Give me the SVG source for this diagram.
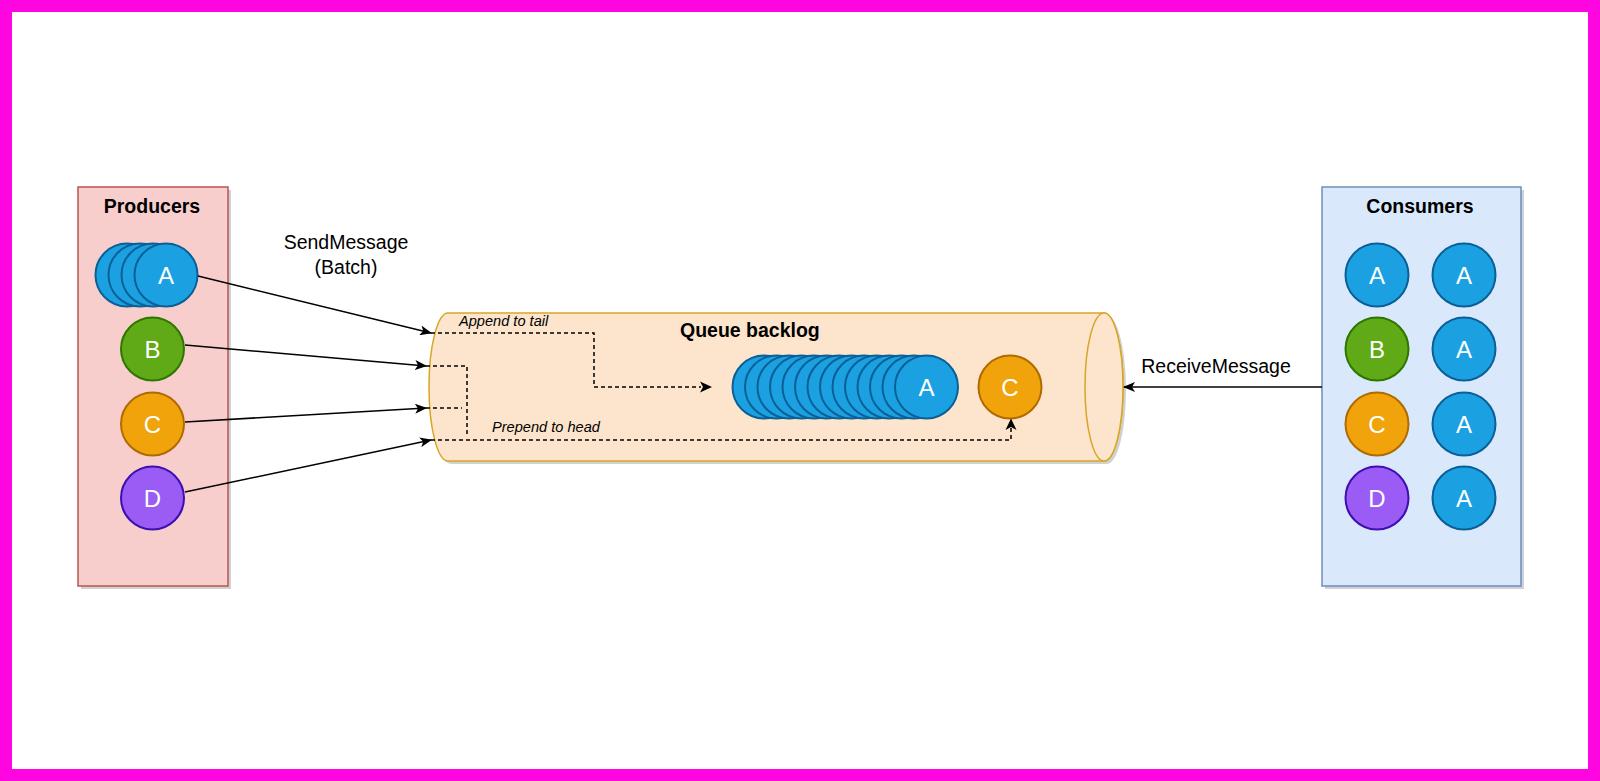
<svg xmlns="http://www.w3.org/2000/svg" width="1600" height="781" viewBox="0 0 1600 781">
<style>
text{font-family:"Liberation Sans",Arial,sans-serif}
.title{font-size:19.5px;font-weight:bold;fill:#000;text-anchor:middle}
.lbl{font-size:19.5px;fill:#000;text-anchor:middle}
.it{font-size:14.6px;font-style:italic;fill:#000}
.ct{font-size:24px;fill:#fff;text-anchor:middle}
.blue{fill:#1ba1e2;stroke:#0a5f96;stroke-width:2}
.green{fill:#60a917;stroke:#2d7600;stroke-width:2}
.orange{fill:#f0a30a;stroke:#b06a00;stroke-width:2}
.purple{fill:#9a5cf5;stroke:#3d0fb0;stroke-width:2}
.sol{fill:none;stroke:#000;stroke-width:1.5;marker-end:url(#arr)}
.dash{fill:none;stroke:#000;stroke-width:1.5;stroke-dasharray:4 3}
.shadow{fill:#000;opacity:0.18}
</style>
<defs>
<marker id="arr" viewBox="0 0 12 10" refX="11" refY="5" markerWidth="12" markerHeight="10" markerUnits="userSpaceOnUse" orient="auto">
<path d="M0,0 L12,5 L0,10 L3,5 Z" fill="#000"/>
</marker>
</defs>
<rect x="0" y="0" width="1600" height="781" fill="#fff"/>
<rect x="6" y="6" width="1588" height="769" fill="none" stroke="#ff06e0" stroke-width="12"/>

<g id="producers">
<rect class="shadow" x="81" y="190" width="150" height="399"/>
<rect x="78" y="187" width="150" height="399" fill="#f8cecc" stroke="#b85450" stroke-width="1.5"/>
<text class="title" x="152" y="213">Producers</text>
</g>
<g id="prod-a">
<circle class="blue" cx="127" cy="275" r="31.5"/>
<circle class="blue" cx="140" cy="275" r="31.5"/>
<circle class="blue" cx="153" cy="275" r="31.5"/>
<circle class="blue" cx="166" cy="275" r="31.5"/>
<text class="ct" x="166" y="283.6">A</text>
</g>
<g id="prod-b"><circle class="green" cx="152.5" cy="349" r="31.5"/><text class="ct" x="152.5" y="357.6">B</text></g>
<g id="prod-c"><circle class="orange" cx="152.5" cy="424" r="31.5"/><text class="ct" x="152.5" y="432.6">C</text></g>
<g id="prod-d"><circle class="purple" cx="152.5" cy="498" r="31.5"/><text class="ct" x="152.5" y="506.6">D</text></g>

<g id="queue">
<path class="shadow" d="M451,316 L1107,316 A19,74 0 0 1 1107,464 L451,464 A19,74 0 0 1 451,316 Z"/>
<path d="M448,313 L1104,313 A19,74 0 0 1 1104,461 L448,461 A19,74 0 0 1 448,313 Z" fill="#fde5cd" stroke="#d6a626" stroke-width="1.5"/>
<ellipse cx="1104" cy="387" rx="19" ry="74" fill="#fde5cd" stroke="#d6a626" stroke-width="1.5"/>
<text x="680" y="337" style="font-size:19.5px;font-weight:bold;fill:#000">Queue backlog</text>
</g>
<g id="backlog-a">
<circle class="blue" cx="764" cy="387" r="31.5"/>
<circle class="blue" cx="776.5" cy="387" r="31.5"/>
<circle class="blue" cx="789" cy="387" r="31.5"/>
<circle class="blue" cx="801.5" cy="387" r="31.5"/>
<circle class="blue" cx="814" cy="387" r="31.5"/>
<circle class="blue" cx="826.5" cy="387" r="31.5"/>
<circle class="blue" cx="839" cy="387" r="31.5"/>
<circle class="blue" cx="851.5" cy="387" r="31.5"/>
<circle class="blue" cx="864" cy="387" r="31.5"/>
<circle class="blue" cx="876.5" cy="387" r="31.5"/>
<circle class="blue" cx="889" cy="387" r="31.5"/>
<circle class="blue" cx="901.5" cy="387" r="31.5"/>
<circle class="blue" cx="914" cy="387" r="31.5"/>
<circle class="blue" cx="926.5" cy="387" r="31.5"/>
<text class="ct" x="926.5" y="395.6">A</text>
</g>
<g id="backlog-c"><circle class="orange" cx="1010" cy="387" r="31.5"/><text class="ct" x="1010" y="395.6">C</text></g>

<g id="consumers">
<rect class="shadow" x="1325" y="190" width="199" height="399"/>
<rect x="1322" y="187" width="199" height="399" fill="#dae8fc" stroke="#6c8ebf" stroke-width="1.5"/>
<text class="title" x="1420" y="213">Consumers</text>
</g>
<g id="cons-a1"><circle class="blue" cx="1377" cy="275" r="31.5"/><text class="ct" x="1377" y="283.6">A</text></g>
<g id="cons-a2"><circle class="blue" cx="1464" cy="275" r="31.5"/><text class="ct" x="1464" y="283.6">A</text></g>
<g id="cons-b"><circle class="green" cx="1377" cy="349" r="31.5"/><text class="ct" x="1377" y="357.6">B</text></g>
<g id="cons-a3"><circle class="blue" cx="1464" cy="349" r="31.5"/><text class="ct" x="1464" y="357.6">A</text></g>
<g id="cons-c"><circle class="orange" cx="1377" cy="424" r="31.5"/><text class="ct" x="1377" y="432.6">C</text></g>
<g id="cons-a4"><circle class="blue" cx="1464" cy="424" r="31.5"/><text class="ct" x="1464" y="432.6">A</text></g>
<g id="cons-d"><circle class="purple" cx="1377" cy="498" r="31.5"/><text class="ct" x="1377" y="506.6">D</text></g>
<g id="cons-a5"><circle class="blue" cx="1464" cy="498" r="31.5"/><text class="ct" x="1464" y="506.6">A</text></g>

<g id="connectors">
<line class="sol" x1="198" y1="276" x2="431" y2="333"/>
<line class="sol" x1="185" y1="345" x2="426" y2="366"/>
<line class="sol" x1="185" y1="422" x2="426" y2="408"/>
<line class="sol" x1="185" y1="492" x2="431" y2="440"/>
<line class="sol" x1="1322" y1="387" x2="1124" y2="387"/>
<polyline class="dash" points="431,333 594,333 594,387 701,387"/>
<path d="M712,387 L700,381.5 L703,387 L700,392.5 Z" fill="#000"/>
<polyline class="dash" points="426,366 467,366 467,436"/>
<polyline class="dash" points="426,408 462,408"/>
<polyline class="dash" points="431,440 1011,440 1011,428"/>
<path d="M1011,418.5 L1005.5,430 L1011,427 L1016.5,430 Z" fill="#000"/>
<text class="lbl" x="346" y="249">SendMessage</text>
<text class="lbl" x="346" y="274">(Batch)</text>
<text class="lbl" x="1216" y="373">ReceiveMessage</text>
<text class="it" x="459" y="326">Append to tail</text>
<text class="it" x="492" y="432">Prepend to head</text>
</g>
</svg>
